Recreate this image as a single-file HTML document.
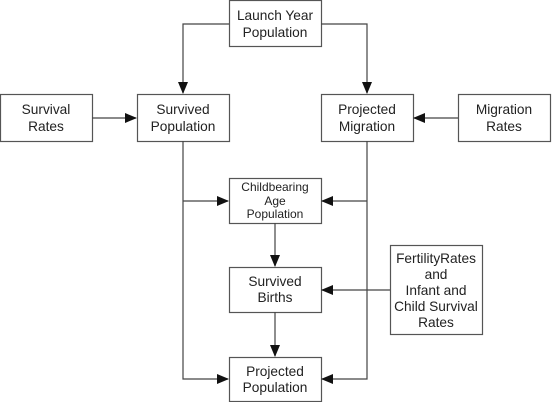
<!DOCTYPE html>
<html><head><style>
html,body{margin:0;padding:0;background:#fff;}
svg text{font-family:"Liberation Sans",Arial,sans-serif;fill:#222;text-anchor:middle;}
</style></head><body>
<svg width="552" height="402" viewBox="0 0 552 402" xmlns="http://www.w3.org/2000/svg">
<defs><marker id="a" markerWidth="12" markerHeight="10" refX="11" refY="5" orient="auto" markerUnits="userSpaceOnUse"><path d="M0,0 L12,5 L0,10 z" fill="#111"/></marker></defs>
<g fill="#fff" stroke="#555" stroke-width="1.2">
<rect x="229.5" y="0.5" width="92" height="46"/>
<rect x="0.5" y="94.5" width="92" height="47"/>
<rect x="137.5" y="94.5" width="92" height="47"/>
<rect x="321.5" y="94.5" width="92" height="47"/>
<rect x="458.5" y="94.5" width="92" height="47"/>
<rect x="229.5" y="178.5" width="92" height="45"/>
<rect x="229.5" y="267.5" width="92" height="45"/>
<rect x="390.5" y="245.5" width="92" height="89"/>
<rect x="229.5" y="357.5" width="92" height="44"/>
</g>
<g fill="none" stroke="#444" stroke-width="1.2">
<path d="M229,24 H183 V93" marker-end="url(#a)"/>
<path d="M321,24 H367 V93" marker-end="url(#a)"/>
<path d="M92,118 H136" marker-end="url(#a)"/>
<path d="M458,118 H414" marker-end="url(#a)"/>
<path d="M183,141 V379 H228" marker-end="url(#a)"/>
<path d="M183,201 H228" marker-end="url(#a)"/>
<path d="M367,141 V379 H322" marker-end="url(#a)"/>
<path d="M367,201 H322" marker-end="url(#a)"/>
<path d="M390,290 H322" marker-end="url(#a)"/>
<path d="M275,223 V266" marker-end="url(#a)"/>
<path d="M275,312 V356" marker-end="url(#a)"/>
</g>
<g font-size="13.7">
<text x="275" y="20">Launch Year</text><text x="275" y="37">Population</text>
<text x="46" y="114">Survival</text><text x="46" y="131">Rates</text>
<text x="183" y="114">Survived</text><text x="183" y="131">Population</text>
<text x="367" y="114">Projected</text><text x="367" y="131">Migration</text>
<text x="504" y="114">Migration</text><text x="504" y="131">Rates</text>
<text x="275" y="286">Survived</text><text x="275" y="302">Births</text>
<text x="275" y="376">Projected</text><text x="275" y="392">Population</text>
<text x="436" y="263">FertilityRates</text><text x="436" y="279">and</text><text x="436" y="295">Infant and</text><text x="436" y="311">Child Survival</text><text x="436" y="327">Rates</text>
</g>
<g font-size="12">
<text x="275" y="191">Childbearing</text><text x="275" y="205">Age</text><text x="275" y="218">Population</text>
</g>
</svg>
</body></html>
